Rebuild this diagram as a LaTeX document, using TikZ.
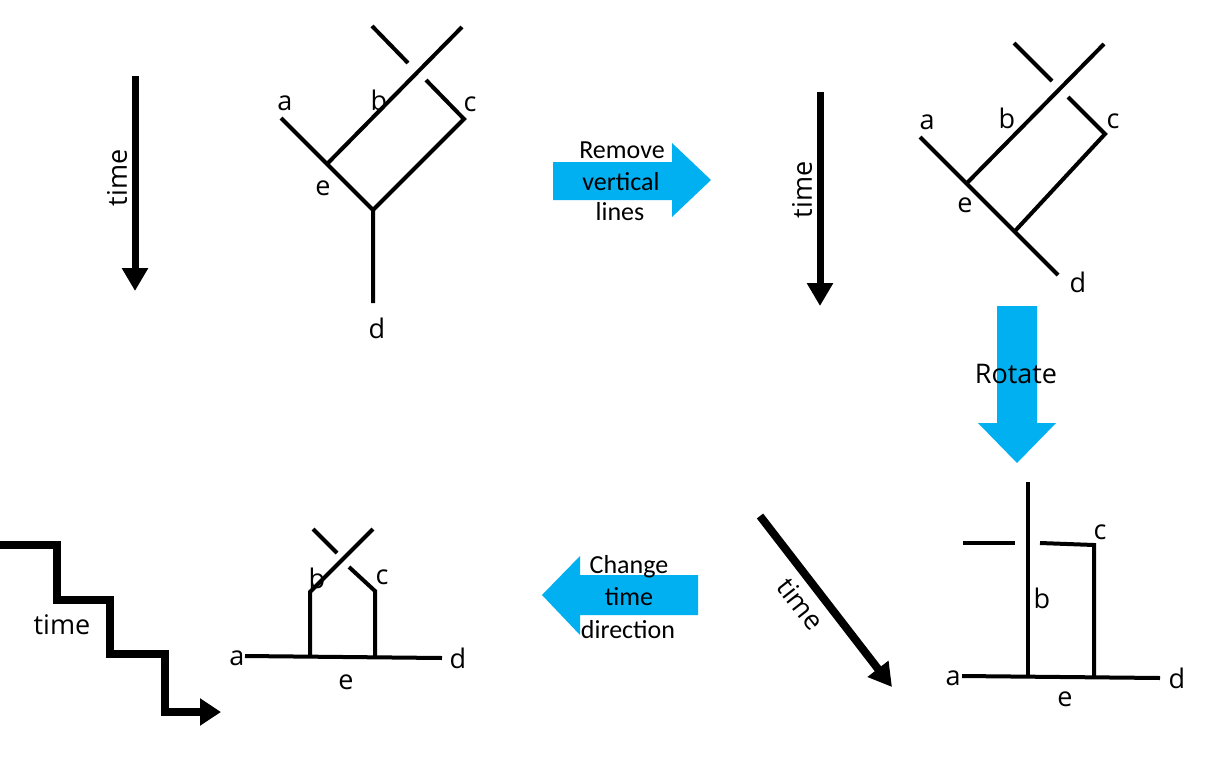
\documentclass[tikz,border=0pt]{standalone}
\usepackage{fontspec}
\setmainfont{Open Sans}
\newfontfamily\calfont{Carlito}
\usetikzlibrary{arrows.meta}
\definecolor{skyblue}{RGB}{0,176,240}
\begin{document}
\begin{tikzpicture}[x=1pt,y=-1pt,
  wire/.style={line width=4pt,line cap=butt,line join=miter},
  timearrow/.style={line width=7pt,-{Triangle[width=25pt,length=23pt]}},
  lbl/.style={inner sep=0pt,font=\fontsize{27}{30}\selectfont},
  bluearrow/.style={fill=skyblue,draw=none},
  btxt/.style={inner sep=0pt,font=\calfont\fontsize{26}{30}\selectfont}]
\useasboundingbox (0,0) rectangle (1224,758);

% ---------- time arrow 1 ----------
\coordinate (t1s) at (135,76);
\coordinate (t1e) at (135,291);
\draw[timearrow] (t1s) -- (t1e);
\node[lbl,rotate=90] (t1l) at (117,178) {time};

% ---------- diagram 1 ----------
\coordinate (d1x1) at (372,26);
\coordinate (d1x2) at (408,63);
\coordinate (d1btop) at (462,27);
\coordinate (d1e) at (327,164);
\coordinate (d1c1) at (426,80);
\coordinate (d1c2) at (464,119);
\coordinate (d1v) at (373,210);
\coordinate (d1a) at (281,118);
\coordinate (d1d) at (373,303);
\draw[wire] (d1x1) -- (d1x2);
\draw[wire] (d1btop) -- (d1e);
\draw[wire] (d1c1) -- (d1c2) -- (d1v);
\draw[wire] (d1a) -- (d1v) -- (d1d);
\node[lbl] (l1a) at (285,103) {a};
\node[lbl] (l1b) at (379,100) {b};
\node[lbl] (l1c) at (470,104) {c};
\node[lbl] (l1e) at (323,188) {e};
\node[lbl] (l1d) at (377,328) {d};

% ---------- blue arrow: remove vertical lines ----------
\fill[bluearrow] (553,162) -- (672,162) -- (672,143) -- (711,180) -- (672,217) -- (672,200) -- (553,200) -- cycle;
\node[btxt] (r1) at (622,150) {Remove};
\node[btxt] (r2) at (621,182) {vertical};
\node[btxt] (r3) at (620,212) {lines};

% ---------- time arrow 2 ----------
\coordinate (t2s) at (820,92);
\coordinate (t2e) at (820,306);
\draw[timearrow] (t2s) -- (t2e);
\node[lbl,rotate=90] (t2l) at (802,190) {time};

% ---------- diagram 2 ----------
\coordinate (d2x1) at (1014,43);
\coordinate (d2x2) at (1052,81);
\coordinate (d2btop) at (1104,44);
\coordinate (d2e) at (967,183);
\coordinate (d2c1) at (1068,97);
\coordinate (d2c2) at (1105,134);
\coordinate (d2v) at (1015,231);
\coordinate (d2a) at (920,137);
\coordinate (d2d) at (1058,275);
\draw[wire] (d2x1) -- (d2x2);
\draw[wire] (d2btop) -- (d2e);
\draw[wire] (d2c1) -- (d2c2) -- (d2v);
\draw[wire] (d2a) -- (d2d);
\node[lbl] (l2a) at (927,122) {a};
\node[lbl] (l2b) at (1007,118) {b};
\node[lbl] (l2c) at (1113,121) {c};
\node[lbl] (l2e) at (965,205) {e};
\node[lbl] (l2d) at (1078,282) {d};

% ---------- blue arrow: rotate ----------
\fill[bluearrow] (997,306) -- (1037,306) -- (1037,423) -- (1056,423) -- (1017,463) -- (978,423) -- (997,423) -- cycle;
\node[lbl] (rot) at (1016,374) {Rotate};

% ---------- diagram 3 ----------
\coordinate (d3btop) at (1028,482);
\coordinate (d3bbot) at (1028,676);
\coordinate (d3l1) at (963,543);
\coordinate (d3l2) at (1015,543);
\coordinate (d3c1) at (1040,543);
\coordinate (d3c2) at (1094,545);
\coordinate (d3c3) at (1094,677);
\coordinate (d3a) at (962,676);
\coordinate (d3d) at (1160,678);
\draw[wire] (d3btop) -- (d3bbot);
\draw[wire] (d3l1) -- (d3l2);
\draw[wire] (d3c1) -- (d3c2) -- (d3c3);
\draw[wire] (d3a) -- (d3d);
\node[lbl] (l3a) at (953,678) {a};
\node[lbl] (l3b) at (1042,598) {b};
\node[lbl] (l3c) at (1100,532) {c};
\node[lbl] (l3e) at (1065,699) {e};
\node[lbl] (l3d) at (1177,678) {d};

% ---------- time arrow 3 (diagonal) ----------
\coordinate (t3s) at (760,516);
\coordinate (t3e) at (892,687);
\draw[timearrow,line width=8pt] (t3s) -- (t3e);
\node[lbl,rotate=-52] (t3l) at (801,604) {time};

% ---------- blue arrow: change time direction ----------
\fill[bluearrow] (698,575) -- (580,575) -- (580,556) -- (542,595) -- (580,635) -- (580,615) -- (698,615) -- cycle;
\node[btxt] (c1) at (629,567) {Change};
\node[btxt] (c2) at (629,597) {time};
\node[btxt] (c3) at (628,630) {direction};

% ---------- diagram 4 ----------
\coordinate (d4x1) at (313,529);
\coordinate (d4x2) at (337,553);
\coordinate (d4btop) at (373,529);
\coordinate (d4b1) at (310,592);
\coordinate (d4b2) at (310,657);
\coordinate (d4c1) at (349,567);
\coordinate (d4c2) at (375,591);
\coordinate (d4c3) at (375,657);
\coordinate (d4a) at (245,656);
\coordinate (d4d) at (442,658);
\draw[wire] (d4x1) -- (d4x2);
\draw[wire] (d4btop) -- (d4b1) -- (d4b2);
\draw[wire] (d4c1) -- (d4c2) -- (d4c3);
\draw[wire] (d4a) -- (d4d);
\node[lbl] (l4a) at (237,658) {a};
\node[lbl] (l4b) at (317,578) {b};
\node[lbl] (l4c) at (382,577) {c};
\node[lbl] (l4e) at (346,682) {e};
\node[lbl] (l4d) at (458,658) {d};

% ---------- staircase time arrow ----------
\coordinate (s0) at (0,545);
\coordinate (s9) at (221,712);
\draw[line width=7.5pt,line join=miter,-{Triangle[width=26pt,length=21pt]}]
  (s0) -- (57,545) -- (57,600) -- (110,600) -- (110,654) -- (165,654) -- (165,712) -- (s9);
\node[lbl] (t4l) at (62,625) {time};
\end{tikzpicture}
\end{document}
